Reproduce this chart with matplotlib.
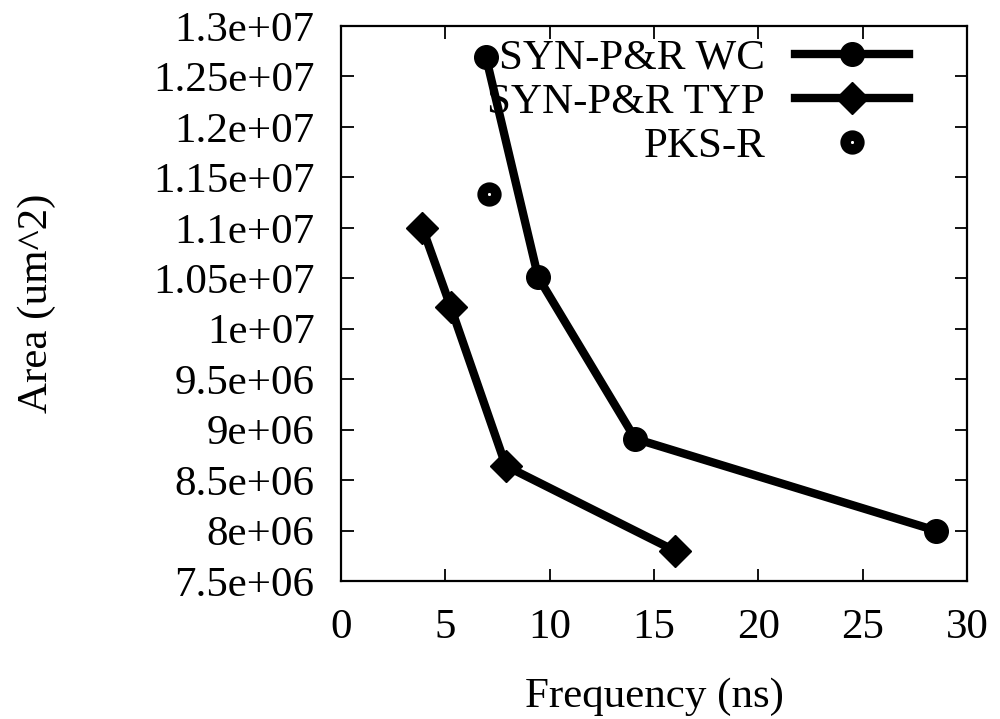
import matplotlib
matplotlib.use("Agg")
import matplotlib.pyplot as plt
from matplotlib.ticker import MultipleLocator, FuncFormatter

plt.rcParams['font.family'] = ['Liberation Serif', 'DejaVu Serif']
plt.rcParams['font.size'] = 31

# data
wc_freq = [6.95, 9.45, 14.1, 28.5]
wc_area = [1.269e7, 1.051e7, 8.91e6, 8.0e6]

typ_freq = [3.9, 5.25, 7.9, 16.0]
typ_area = [1.10e7, 1.022e7, 8.64e6, 7.8e6]

pks_freq = [7.1]
pks_area = [1.134e7]

fig = plt.figure(figsize=(10, 7.19), dpi=100)
ax = fig.add_axes([0.341, 1 - 581 / 719, 0.626, 555 / 719])

ax.plot(wc_freq, wc_area, 'k-', lw=6, marker='o', ms=17, label='SYN-P&R WC')
ax.plot(typ_freq, typ_area, 'k-', lw=6, marker='D', ms=16, label='SYN-P&R TYP')
# ring marker with a tiny white centre, gnuplot style
ax.plot(pks_freq, pks_area, 'o', ls='none', ms=10, mfc='white', mec='black',
        mew=7.5, label='PKS-R')

ax.set_xlim(0, 30)
ax.set_ylim(7.5e6, 1.3e7)
ax.xaxis.set_major_locator(MultipleLocator(5))
ax.yaxis.set_major_locator(MultipleLocator(5e5))
ax.yaxis.set_major_formatter(FuncFormatter(lambda v, pos: '%g' % v))

ax.tick_params(direction='in', length=9, width=1.3, top=True, right=True)
ax.tick_params(axis='y', pad=19)
ax.tick_params(axis='x', pad=20)
for sp in ax.spines.values():
    sp.set_linewidth(1.6)

ax.set_xlabel('Frequency (ns)', labelpad=22)
ax.set_ylabel('Area (um^2)', labelpad=70)

leg = ax.legend(loc='upper right', bbox_to_anchor=(0.915, 0.985), frameon=False,
                markerfirst=False, handlelength=2.65, handletextpad=0.7,
                labelspacing=0.12, borderaxespad=0.0, borderpad=0.1)

fig.savefig('out.png', dpi=100)
